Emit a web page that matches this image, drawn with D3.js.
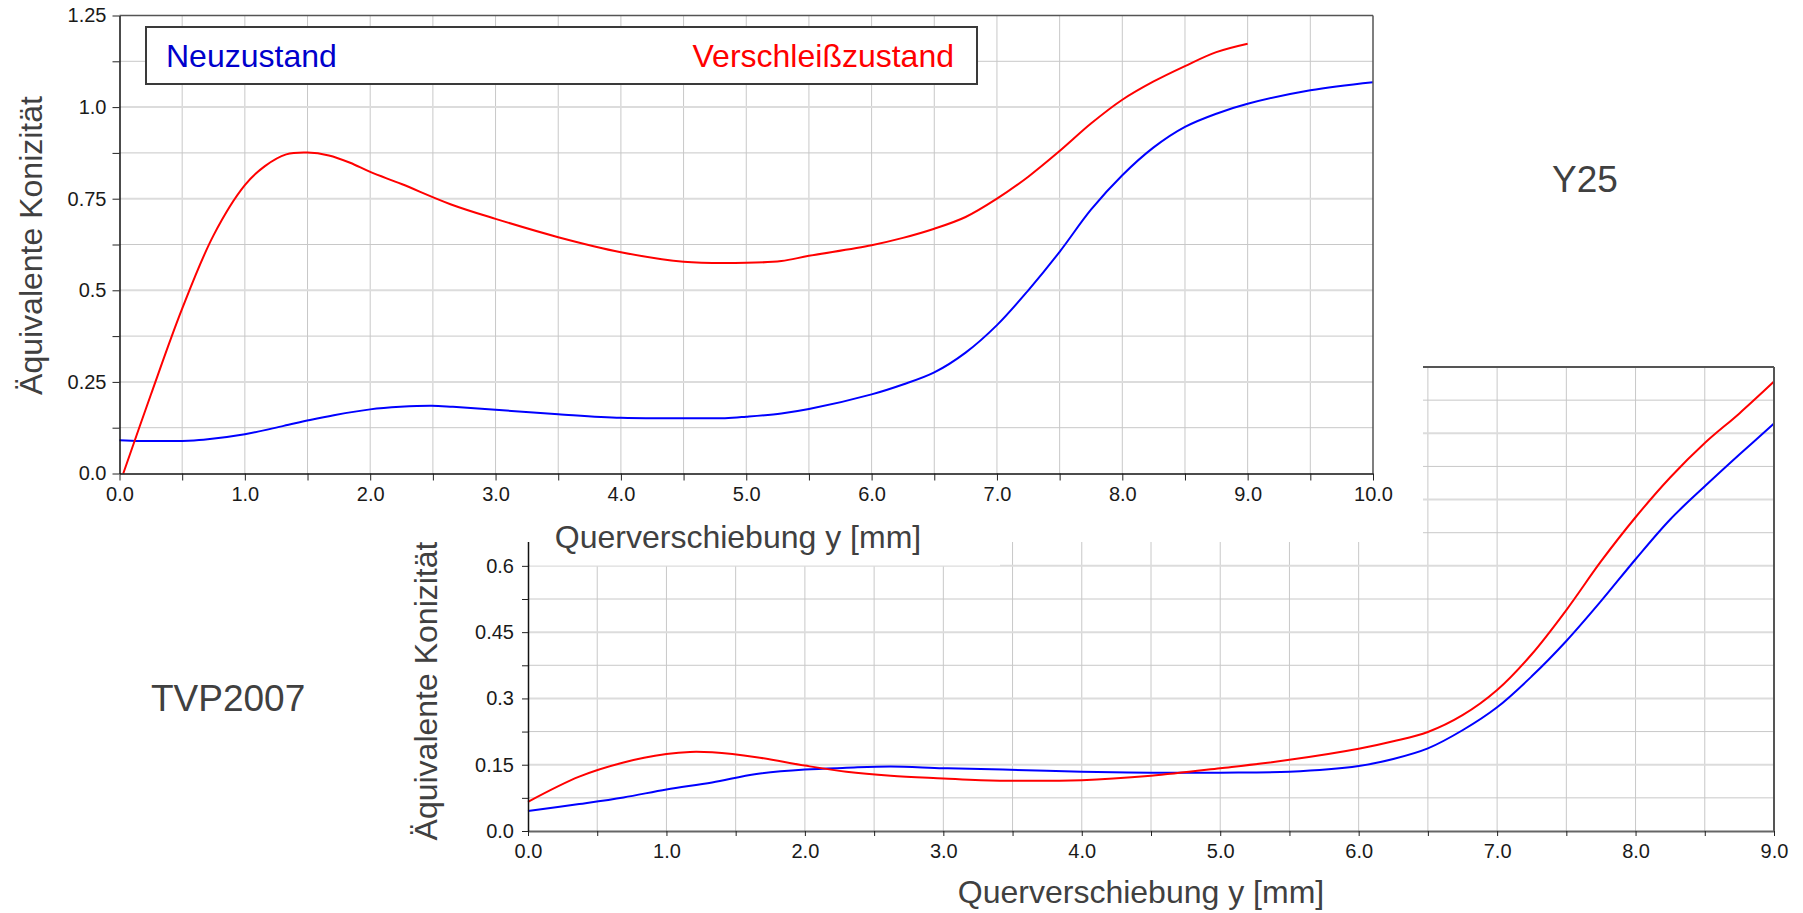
<!DOCTYPE html>
<html>
<head>
<meta charset="utf-8">
<script src="https://cdn.jsdelivr.net/npm/d3@7"></script>
<style>
  body { margin: 0; background: #fff; }
  svg { display: block; font-family: Arial, "Liberation Sans", sans-serif; }
</style>
</head>
<body>
<svg width="1803" height="913"></svg>
<script>
// Y25 (upper chart)
var y25NeuX = [0, 0.17, 0.5, 0.67, 1.0, 1.31, 1.52, 1.71, 2.0, 2.24, 2.49, 2.66, 3.0, 3.5, 4.0, 4.5, 4.83, 5.0, 5.28, 5.5, 6.0, 6.25, 6.5, 6.75, 7.0, 7.25, 7.5, 7.75, 8.0, 8.25, 8.5, 8.75, 9.0, 9.5, 10.0];
var y25NeuY = [0.091, 0.089, 0.089, 0.092, 0.107, 0.13, 0.146, 0.159, 0.175, 0.182, 0.185, 0.182, 0.174, 0.162, 0.152, 0.151, 0.151, 0.155, 0.164, 0.176, 0.216, 0.243, 0.276, 0.33, 0.405, 0.50, 0.605, 0.72, 0.814, 0.89, 0.946, 0.982, 1.009, 1.046, 1.068];
var y25VerX = [0.03, 0.25, 0.5, 0.75, 1.0, 1.16, 1.33, 1.5, 1.67, 1.84, 2.0, 2.25, 2.64, 3.0, 3.5, 4.0, 4.5, 5.0, 5.28, 5.5, 6.0, 6.25, 6.5, 6.75, 7.0, 7.25, 7.5, 7.75, 8.0, 8.25, 8.5, 8.75, 9.0];
var y25VerY = [0, 0.215, 0.45, 0.65, 0.787, 0.839, 0.871, 0.876, 0.868, 0.848, 0.823, 0.79, 0.735, 0.695, 0.645, 0.604, 0.578, 0.575, 0.58, 0.594, 0.623, 0.643, 0.668, 0.70, 0.75, 0.81, 0.88, 0.955, 1.02, 1.07, 1.112, 1.15, 1.173];

// TVP2007 (lower chart)
var tvpNeuX = [0, 0.37, 0.69, 1.0, 1.33, 1.65, 2.0, 2.3, 2.62, 3.0, 3.43, 4.0, 4.5, 5.0, 5.5, 6.0, 6.25, 6.5, 6.75, 7.0, 7.25, 7.5, 7.75, 8.0, 8.25, 8.5, 8.75, 9.0];
var tvpNeuY = [0.045, 0.061, 0.076, 0.094, 0.11, 0.129, 0.139, 0.143, 0.146, 0.142, 0.139, 0.134, 0.132, 0.132, 0.134, 0.147, 0.163, 0.187, 0.228, 0.28, 0.35, 0.43, 0.52, 0.615, 0.705, 0.78, 0.852, 0.922];
var tvpVerX = [0, 0.37, 0.69, 1.0, 1.17, 1.33, 1.65, 2.0, 2.3, 2.62, 3.0, 3.27, 4.0, 4.5, 5.0, 5.5, 6.0, 6.25, 6.5, 6.75, 7.0, 7.25, 7.5, 7.75, 8.0, 8.25, 8.5, 8.75, 9.0];
var tvpVerY = [0.066, 0.123, 0.155, 0.174, 0.179, 0.178, 0.167, 0.148, 0.134, 0.125, 0.119, 0.115, 0.115, 0.125, 0.142, 0.161, 0.186, 0.203, 0.224, 0.262, 0.319, 0.40, 0.50, 0.61, 0.71, 0.80, 0.878, 0.945, 1.017];

var y25XLabels = ["0.0", "1.0", "2.0", "3.0", "4.0", "5.0", "6.0", "7.0", "8.0", "9.0", "10.0"];
var y25YLabels = ["0.0", "0.25", "0.5", "0.75", "1.0", "1.25"];
var tvpXLabels = ["0.0", "1.0", "2.0", "3.0", "4.0", "5.0", "6.0", "7.0", "8.0", "9.0"];
var tvpYLabels = ["0.0", "0.15", "0.3", "0.45", "0.6"];

var svg = d3.select("svg");
var textCol = "#404040";

function pts(xs, ys) {
  return xs.map(function(d, i) { return [d, ys[i]]; });
}

function labelFmt(step, labels) {
  return function(d) {
    var k = Math.round(d / step);
    return Math.abs(k * step - d) < 1e-6 && labels[k] !== undefined ? labels[k] : "";
  };
}

function grid(g, x, y, xs, ys, majorY) {
  g.selectAll(".gx").data(xs).enter().append("line")
      .attr("x1", function(d) { return x(d); }).attr("x2", function(d) { return x(d); })
      .attr("y1", y.range()[0]).attr("y2", y.range()[1])
      .style("stroke", "#c8c8c8").style("stroke-width", 1);
  g.selectAll(".gy").data(ys).enter().append("line")
      .attr("x1", x.range()[0]).attr("x2", x.range()[1])
      .attr("y1", function(d) { return y(d); }).attr("y2", function(d) { return y(d); })
      .style("stroke", function(d) { return majorY(d) ? "#dcdcdc" : "#c8c8c8"; })
      .style("stroke-width", function(d) { return majorY(d) ? 2 : 1; });
}

function styleAxis(ax, col, w) {
  ax.select(".domain").style("stroke", col).style("stroke-width", w);
  ax.selectAll(".tick line").style("stroke", "#222");
  ax.selectAll(".tick text").style("font-size", "20px").style("fill", "#1a1a1a")
      .style("font-family", "Arial, 'Liberation Sans', sans-serif");
  ax.selectAll(".tick text").filter(function() { return this.textContent === ""; }).remove();
}

function curves(g, x, y, neu, ver) {
  var line = d3.line().x(function(d) { return x(d[0]); }).y(function(d) { return y(d[1]); })
      .curve(d3.curveCatmullRom.alpha(0.5));
  g.append("path").datum(neu).attr("d", line)
      .style("fill", "none").style("stroke", "#0000ff").style("stroke-width", 2);
  g.append("path").datum(ver).attr("d", line)
      .style("fill", "none").style("stroke", "#ff0000").style("stroke-width", 2);
}

// ---------- lower chart: TVP2007 ----------
var x2 = d3.scaleLinear().domain([0, 9]).range([528, 1774]);
var y2 = d3.scaleLinear().domain([0, 1.05]).range([831, 367]);
var g2 = svg.append("g");

grid(g2, x2, y2, d3.range(0.5, 9, 0.5), d3.range(0.075, 1.05, 0.075),
     function(d) { return Math.abs(d / 0.15 - Math.round(d / 0.15)) < 1e-6; });
curves(g2, x2, y2, pts(tvpNeuX, tvpNeuY), pts(tvpVerX, tvpVerY));

g2.append("line").attr("x1", x2(0)).attr("x2", x2(9)).attr("y1", y2(1.05)).attr("y2", y2(1.05))
    .style("stroke", "#555").style("stroke-width", 2);
g2.append("line").attr("x1", x2(9)).attr("x2", x2(9)).attr("y1", y2(0)).attr("y2", y2(1.05))
    .style("stroke", "#555").style("stroke-width", 2);

var ax2 = g2.append("g").attr("transform", "translate(0," + y2(0) + ")")
    .call(d3.axisBottom(x2).tickValues(d3.range(0, 9.01, 0.5)).tickSize(5).tickSizeOuter(0)
      .tickPadding(8).tickFormat(labelFmt(1, tvpXLabels)));
styleAxis(ax2, "#666", 2);
var ay2 = g2.append("g").attr("transform", "translate(" + x2(0) + ",0)")
    .call(d3.axisLeft(y2).tickValues(d3.range(0, 1.051, 0.075)).tickSize(6).tickSizeOuter(0)
      .tickPadding(8).tickFormat(labelFmt(0.15, tvpYLabels)));
styleAxis(ay2, "#111", 1.5);

g2.append("text").attr("x", 1141).attr("y", 903).attr("text-anchor", "middle")
    .style("font-size", "32px").style("fill", textCol).text("Querverschiebung y [mm]");
g2.append("text").attr("transform", "translate(437,691) rotate(-90)").attr("text-anchor", "middle")
    .style("font-size", "32px").style("fill", textCol).text("Äquivalente Konizität");

// white cover where the upper chart was pasted
svg.append("rect").attr("x", 0).attr("y", 0).attr("width", 1423).attr("height", 542).style("fill", "#fff");
svg.append("rect").attr("x", 530).attr("y", 541).attr("width", 470).attr("height", 24.5).style("fill", "#fff");

// ---------- upper chart: Y25 ----------
var x1 = d3.scaleLinear().domain([0, 10]).range([119.5, 1373]);
var y1 = d3.scaleLinear().domain([0, 1.25]).range([473.5, 15.5]);
var g1 = svg.append("g");

grid(g1, x1, y1, d3.range(0.5, 10, 0.5), d3.range(0.125, 1.25, 0.125),
     function(d) { return Math.abs(d / 0.25 - Math.round(d / 0.25)) < 1e-6; });
curves(g1, x1, y1, pts(y25NeuX, y25NeuY), pts(y25VerX, y25VerY));

g1.append("line").attr("x1", x1(0)).attr("x2", x1(10)).attr("y1", y1(1.25)).attr("y2", y1(1.25))
    .style("stroke", "#555").style("stroke-width", 1.5);
g1.append("line").attr("x1", x1(10)).attr("x2", x1(10)).attr("y1", y1(0)).attr("y2", y1(1.25))
    .style("stroke", "#555").style("stroke-width", 1.5);

var ax1 = g1.append("g").attr("transform", "translate(0," + y1(0) + ")")
    .call(d3.axisBottom(x1).tickValues(d3.range(0, 10.01, 0.5)).tickSize(7).tickSizeOuter(0)
      .tickPadding(6).tickFormat(labelFmt(1, y25XLabels)));
styleAxis(ax1, "#111", 1.5);
var ay1 = g1.append("g").attr("transform", "translate(" + x1(0) + ",0)")
    .call(d3.axisLeft(y1).tickValues(d3.range(0, 1.251, 0.125)).tickSize(7).tickSizeOuter(0)
      .tickPadding(6).tickFormat(labelFmt(0.25, y25YLabels)));
styleAxis(ay1, "#111", 1.5);

// legend
g1.append("rect").attr("x", 146).attr("y", 27).attr("width", 831).attr("height", 57)
    .style("fill", "#fff").style("stroke", "#3a3a3a").style("stroke-width", 2);
g1.append("text").attr("x", 166).attr("y", 67)
    .style("font-size", "32px").style("fill", "#0000cc").text("Neuzustand");
g1.append("text").attr("x", 954).attr("y", 67).attr("text-anchor", "end")
    .style("font-size", "32px").style("fill", "#ff0000").text("Verschleißzustand");

g1.append("text").attr("x", 738).attr("y", 548).attr("text-anchor", "middle")
    .style("font-size", "32px").style("fill", textCol).text("Querverschiebung y [mm]");
g1.append("text").attr("transform", "translate(42,245.5) rotate(-90)").attr("text-anchor", "middle")
    .style("font-size", "32px").style("fill", textCol).text("Äquivalente Konizität");

// chart names
svg.append("text").attr("x", 1552).attr("y", 192)
    .style("font-size", "37px").style("fill", textCol).text("Y25");
svg.append("text").attr("x", 151).attr("y", 711)
    .style("font-size", "37px").style("fill", textCol).text("TVP2007");
</script>
</body>
</html>
